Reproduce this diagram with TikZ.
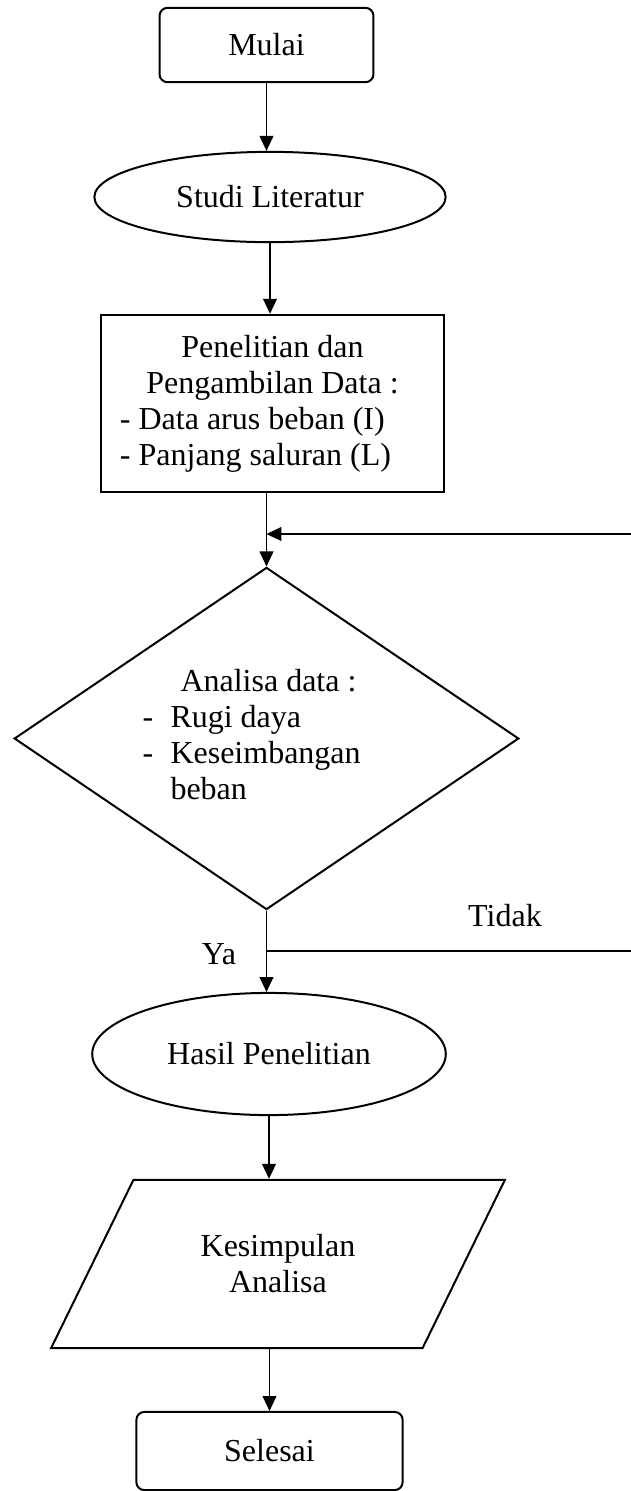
\documentclass[tikz,border=0pt]{standalone}
\usepackage{fontspec}
\setmainfont{Liberation Serif}
\usetikzlibrary{positioning,arrows.meta,shapes.geometric}

\begin{document}
\begin{tikzpicture}[x=0.375pt,y=-0.375pt,
  font=\fontsize{12}{13.5}\selectfont,
  >={Triangle[length=5.6pt,width=5.2pt]},
  term/.style={draw,line width=0.75pt,rounded corners=3pt,inner sep=0pt},
  oval/.style={draw,ellipse,line width=0.75pt,inner sep=0pt},
  proc/.style={draw,line width=0.75pt,inner sep=0pt},
  dec/.style={draw,diamond,line width=0.75pt,inner sep=0pt},
  io/.style={draw,trapezium,trapezium left angle=53,trapezium right angle=127,
             trapezium stretches,line width=0.75pt,inner sep=0pt},
  flow/.style={line width=0.5pt},
  lbl/.style={inner sep=0pt}]
  \useasboundingbox (0,0) rectangle (631,1491);
  % ---- start / literature ----
  \node[term,minimum width=28.2mm,minimum height=9.8mm] (mulai) at (266.5,45) {Mulai};
  \node[oval,minimum width=46.3mm,minimum height=11.9mm] (studi) at (270,197)
     {Studi Literatur};
  \node[proc,minimum width=45.1mm,minimum height=23.4mm,text width=114.4pt,
        inner xsep=6.75pt,align=flush center] (data) at (272.5,403.5)
     {Penelitian dan\\Pengambilan Data :\\
      \makebox[114.4pt][l]{- Data arus beban (I)}\\
      \makebox[114.4pt][l]{- Panjang saluran (L)}};
  \draw[flow,->] (mulai) -- (mulai |- studi.north);
  \draw[flow,->] (studi) -- (studi |- data.north);
  % ---- decision ----
  \node[dec,minimum width=66.5mm,minimum height=45.1mm] (analisa) at (266.5,738.5) {};
  \node[lbl,anchor=west,align=left] (analisaTxt) at (142,735)
     {\hspace*{14.25pt}Analisa data :\\
      \makebox[10.5pt][l]{-}Rugi daya\\
      \makebox[10.5pt][l]{-}Keseimbangan\\
      \hspace*{10.5pt}beban};
  \coordinate (ulangR) at (631,534);
  \coordinate (tidakR) at (631,951);
  \draw[flow,->] (analisa.north |- data.south) -- (analisa.north);
  \draw[flow,->] (ulangR) -- (ulangR -| analisa.north);
  \draw[flow] (analisa.south |- tidakR) -- (tidakR);
  \node[lbl] (tidak) at (505,916) {Tidak};
  \node[lbl] (ya) at (219,954) {Ya};
  % ---- results ----
  \node[oval,minimum width=46.6mm,minimum height=16.1mm] (hasil) at (269,1054)
     {Hasil Penelitian};
  \node[io,minimum width=60.3mm,minimum height=22.2mm,align=center] (kesimpulan)
     at (278,1264) {Kesimpulan\\Analisa};
  \node[term,minimum width=35.1mm,minimum height=10.3mm] (selesai) at (269.5,1451)
     {Selesai};
  \draw[flow,->] (analisa.south) -- (analisa.south |- hasil.north);
  \draw[flow,->] (hasil) -- (hasil |- kesimpulan.north);
  \draw[flow,->] (selesai.north |- kesimpulan.south) -- (selesai.north);
\end{tikzpicture}
\end{document}
